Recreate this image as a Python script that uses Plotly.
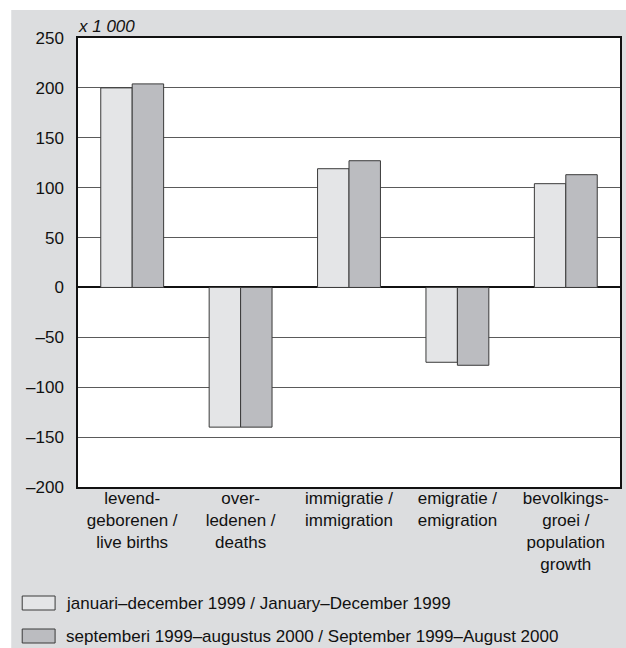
import plotly.graph_objects as go

categories = [
    "levend-<br>geborenen /<br>live births",
    "over-<br>ledenen /<br>deaths",
    "immigratie /<br>immigration",
    "emigratie /<br>emigration",
    "bevolkings-<br>groei /<br>population<br>growth",
]
series_names = [
    "januari–december 1999 / January–December 1999",
    "septemberi 1999–augustus 2000 / September 1999–August 2000",
]
values_1999 = [200, -140, 119, -75, 104]
values_sep99_aug00 = [204, -140, 127, -78, 113]
tick_vals = [250, 200, 150, 100, 50, 0, -50, -100, -150, -200]
tick_text = ["250", "200", "150", "100", "50", "0", "–50", "–100", "–150", "–200"]
unit_label = "x 1 000"

W, H = 626, 648
L, R, T, B = 78, 4, 38, 161
PW, PH = W - L - R, H - T - B

def px(x):
    return (x - L) / PW

def py(y):
    return (H - B - y) / PH

light = "#e4e5e7"
dark = "#bbbcc0"
bg = "#dcdddf"
edge = "#3a3a3a"
font_family = "Liberation Sans, Arial, sans-serif"

fig = go.Figure()
fig.add_bar(x=categories, y=values_1999, name=series_names[0],
            marker=dict(color=light, line=dict(color=edge, width=1)))
fig.add_bar(x=categories, y=values_sep99_aug00, name=series_names[1],
            marker=dict(color=dark, line=dict(color=edge, width=1)))

shapes = [
    # white strips outside the grey panel
    dict(type="rect", xref="paper", yref="paper", x0=px(-5), x1=px(W + 5), y0=py(10), y1=py(-5),
         fillcolor="white", line=dict(width=0), layer="below"),
    dict(type="rect", xref="paper", yref="paper", x0=px(-5), x1=px(11), y0=py(H + 5), y1=py(-5),
         fillcolor="white", line=dict(width=0), layer="below"),
]
annotations = [
    dict(text="<i>" + unit_label + "</i>", xref="paper", yref="paper", x=0, y=py(27),
         xanchor="left", yanchor="middle", showarrow=False,
         font=dict(family=font_family, size=17, color="#111"), xshift=-2),
]
leg_y = [603, 636]
for i, (name, col) in enumerate(zip(series_names, [light, dark])):
    shapes.append(dict(type="rect", xref="paper", yref="paper",
                       x0=px(22), x1=px(55), y0=py(leg_y[i] + 7), y1=py(leg_y[i] - 7),
                       fillcolor=col, line=dict(color=edge, width=1)))
    annotations.append(dict(text=name, xref="paper", yref="paper", x=px(64), y=py(leg_y[i]),
                            xanchor="left", yanchor="middle", showarrow=False,
                            font=dict(family=font_family, size=17, color="#111")))

fig.update_layout(
    width=W, height=H,
    margin=dict(l=L, r=R, t=T, b=B, pad=0),
    paper_bgcolor=bg, plot_bgcolor="white",
    barmode="group", bargap=0.42, bargroupgap=0,
    showlegend=False,
    font=dict(family=font_family, size=17, color="#111"),
    shapes=shapes, annotations=annotations,
    xaxis=dict(showline=True, mirror=True, linecolor="#111", linewidth=1.5,
               ticks="", ticklabelstandoff=-5,
               showgrid=False, tickfont=dict(size=17)),
    yaxis=dict(range=[-200, 250], tickvals=tick_vals, ticktext=tick_text,
               showline=True, mirror=True, linecolor="#111", linewidth=1.5,
               ticks="outside", ticklen=9, tickcolor="rgba(0,0,0,0)",
               showgrid=True, gridcolor="#5a5a5a", gridwidth=1,
               zeroline=True, zerolinecolor="#111", zerolinewidth=1.5,
               tickfont=dict(size=17)),
)

fig.write_html("out.html", config={"displayModeBar": False},
               post_script="document.body.style.margin='0px';document.body.style.padding='0px';")
